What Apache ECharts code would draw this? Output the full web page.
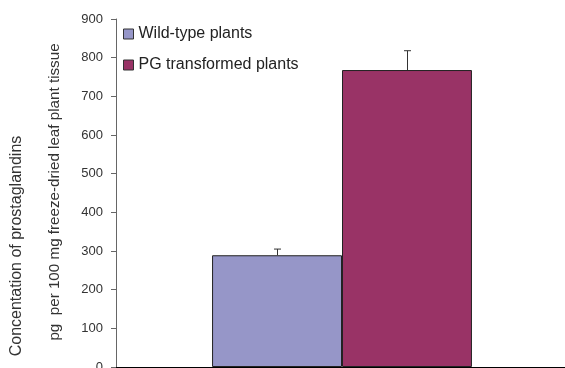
<!DOCTYPE html>
<html><head><meta charset="utf-8">
<script src="https://cdn.jsdelivr.net/npm/echarts@6/dist/echarts.min.js"></script>
<style>html,body{margin:0;padding:0;background:#fff}#c{width:565px;height:368px}</style>
</head><body><div id="c"></div>
<script>
const categories = [''];
const seriesNames = ['Wild-type plants', 'PG transformed plants'];
const wildValues = [289];
const pgValues = [768];
const wildErrTop = [305];
const pgErrTop = [818];
const yTitle1 = 'Concentation of prostaglandins';
const yTitle2 = 'pg  per 100 mg freeze-dried leaf plant tissue';

const gapPct = 0.425;
const chart = echarts.init(document.getElementById('c'));
function errSeries(vals, tops, side) {
  return {
    type: 'custom', z: 5,
    data: vals.map((v, i) => [i, v, tops[i]]),
    renderItem: function (params, api) {
      const band = api.size([1, 0])[0];
      const bw = band * (1 - gapPct) / 2;
      const c0 = api.coord([api.value(0), api.value(1)]);
      const c1 = api.coord([api.value(0), api.value(2)]);
      const x = Math.round(c0[0] + side * bw / 2) + 0.5;
      const st = { stroke: '#333', lineWidth: 1 };
      return { type: 'group', children: [
        { type: 'line', shape: { x1: x, y1: c0[1], x2: x, y2: c1[1] }, style: st },
        { type: 'line', shape: { x1: x - 3.5, y1: c1[1], x2: x + 3.5, y2: c1[1] }, style: st }
      ]};
    }
  };
}
chart.setOption({
  animation: false,
  textStyle: { fontFamily: 'Liberation Sans, Arial, sans-serif' },
  grid: { left: 116, right: -3, top: 19, bottom: 1, outerBoundsMode: 'none', containLabel: false },
  legend: {
    left: 118, top: 21, orient: 'vertical', itemGap: 15,
    itemWidth: 10, itemHeight: 10,
    textStyle: { fontSize: 16, color: '#222' },
    data: seriesNames.map(n => ({ name: n, icon: 'rect', itemStyle: { borderColor: '#333', borderWidth: 1 } }))
  },
  xAxis: {
    type: 'category', data: categories,
    axisLine: { lineStyle: { color: '#000', width: 1 } },
    axisTick: { show: false }, axisLabel: { show: false }
  },
  yAxis: {
    type: 'value', min: 0, max: 900, interval: 100,
    axisLine: { show: true, lineStyle: { color: '#666' } },
    axisTick: { show: true, length: 5, lineStyle: { color: '#666' } },
    axisLabel: { fontSize: 13, color: '#333', margin: 13 },
    splitLine: { show: false }
  },
  graphic: [
    { type: 'text', x: 17, y: 246, rotation: Math.PI / 2, style: { text: yTitle1, fill: '#333', font: '16px Liberation Sans', align: 'center', verticalAlign: 'middle' } },
    { type: 'text', x: 55, y: 192, rotation: Math.PI / 2, style: { text: yTitle2, fill: '#333', font: '15.2px Liberation Sans', align: 'center', verticalAlign: 'middle' } }
  ],
  series: [
    { name: seriesNames[0], type: 'bar', data: wildValues, barGap: '0%', barCategoryGap: (gapPct * 100) + '%',
      itemStyle: { color: '#9696C8', borderColor: '#222', borderWidth: 1 } },
    { name: seriesNames[1], type: 'bar', data: pgValues, barGap: '0%', barCategoryGap: (gapPct * 100) + '%',
      itemStyle: { color: '#993366', borderColor: '#222', borderWidth: 1 } },
    errSeries(wildValues, wildErrTop, -1),
    errSeries(pgValues, pgErrTop, 1)
  ]
});
</script></body></html>
